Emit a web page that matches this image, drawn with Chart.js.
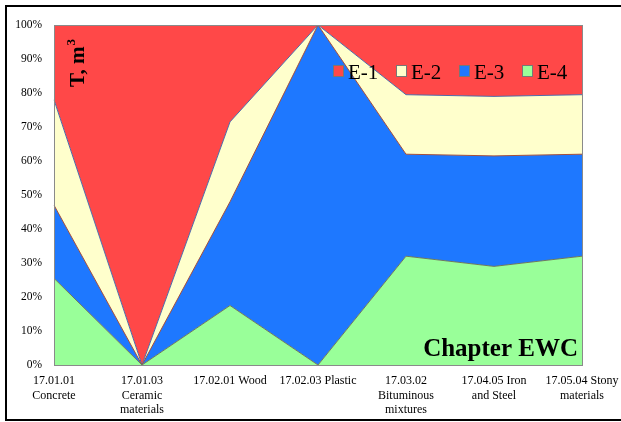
<!DOCTYPE html>
<html>
<head>
	<meta charset="utf-8">
	<title>EWC chart</title>
	<script src="https://cdn.jsdelivr.net/npm/chart.js"></script>
	<style>
	body { margin: 0; background: #fff; }
	#wrap { width: 621px; height: 422px; position: relative; }
	</style>
</head>
<body>
<div id="wrap"><canvas id="myChart" width="621" height="422"></canvas></div>
<script>
// categories (EWC codes)
const categories = [
	['17.01.01', 'Concrete'],
	['17.01.03', 'Ceramic', 'materials'],
	['17.02.01 Wood'],
	['17.02.03 Plastic'],
	['17.03.02', 'Bituminous', 'mixtures'],
	['17.04.05 Iron', 'and Steel'],
	['17.05.04 Stony', 'materials']
];
// shares in %, stacked bottom -> top
const e4 = [25.5, 0, 17.5, 0, 32, 29, 32];
const e3 = [21.5, 0, 30.5, 100, 30, 32.5, 30];
const e2 = [31, 0, 23.5, 0, 17.5, 17.5, 17.5];
const e1 = [22, 100, 28.5, 0, 20.5, 21, 20.5];

const serif = '"Liberation Serif", "Times New Roman", serif';

const series = [
	{ label: 'E-4', data: e4, color: '#99FF99', line: '#6f7a5c' },
	{ label: 'E-3', data: e3, color: '#1E78FF', line: '#a5503c' },
	{ label: 'E-2', data: e2, color: '#FFFFCC', line: '#4f6aa8' },
	{ label: 'E-1', data: e1, color: '#FF4848', line: '#8a8a9a' }
];

const extras = {
	id: 'extras',
	afterDraw(chart) {
		const ctx = chart.ctx;
		const a = chart.chartArea;
		ctx.save();
		// plot border
		ctx.strokeStyle = '#8a8a8a';
		ctx.lineWidth = 1;
		ctx.strokeRect(a.left + 0.5, a.top + 0.5, a.right - a.left, a.bottom - a.top);
		// outer frame (right side runs off the picture)
		ctx.strokeStyle = '#000';
		ctx.lineWidth = 2;
		ctx.strokeRect(6, 6, 630, 414);

		// legend, E-1 first
		ctx.font = '21px ' + serif;
		ctx.textBaseline = 'alphabetic';
		ctx.textAlign = 'left';
		let x = 333;
		[3, 2, 1, 0].forEach(i => {
			const s = series[i];
			ctx.fillStyle = s.color;
			ctx.fillRect(x, 65, 10, 11);
			ctx.strokeStyle = '#777';
			ctx.lineWidth = 1;
			ctx.strokeRect(x + 0.5, 65.5, 10, 11);
			ctx.fillStyle = '#000';
			ctx.fillText(s.label, x + 15, 79);
			x += 63;
		});

		// axis title, rotated
		ctx.translate(84, 87);
		ctx.rotate(-Math.PI / 2);
		ctx.font = 'bold 21px ' + serif;
		ctx.fillStyle = '#000';
		ctx.fillText('T, m', 0, 0);
		const w = ctx.measureText('T, m').width;
		ctx.font = 'bold 13px ' + serif;
		ctx.fillText('3', w + 1, -9);
		ctx.setTransform(1, 0, 0, 1, 0, 0);
		ctx.scale(chart.currentDevicePixelRatio, chart.currentDevicePixelRatio);

		// chapter label
		ctx.font = 'bold 25px ' + serif;
		ctx.textAlign = 'right';
		ctx.fillStyle = '#000';
		ctx.fillText('Chapter EWC', 578, 356);
		ctx.restore();
	}
};

const ctx = document.getElementById('myChart').getContext('2d');
const chart = new Chart(ctx, {
	type: 'line',
	data: {
		labels: categories,
		datasets: series.map((s, i) => ({
			label: s.label,
			data: s.data,
			backgroundColor: s.color,
			borderColor: s.line,
			borderWidth: 1,
			pointRadius: 0,
			tension: 0,
			fill: i == 0 ? 'origin' : '-1'
		}))
	},
	options: {
		responsive: false,
		animation: false,
		layout: { padding: { left: 0, right: 39, top: 25, bottom: 0 } },
		plugins: {
			legend: { display: false },
			tooltip: { enabled: false }
		},
		scales: {
			x: {
				offset: false,
				grid: { display: false, drawTicks: false },
				border: { display: true, color: '#8a8a8a' },
				ticks: {
					autoSkip: false,
					maxRotation: 0,
					minRotation: 0,
					padding: 9,
					color: '#000',
					font: { family: serif, size: 12, lineHeight: 1.2 }
				},
				afterFit(scale) {
					scale.height = 57;
					scale.paddingLeft = 0;
					scale.paddingRight = 0;
				}
			},
			y: {
				stacked: true,
				min: 0,
				max: 100,
				grid: { display: false, drawTicks: false },
				border: { display: true, color: '#8a8a8a' },
				ticks: {
					stepSize: 10,
					padding: 12,
					color: '#000',
					font: { family: serif, size: 11.5 },
					callback: v => v + '%'
				},
				afterFit(scale) { scale.width = 54; }
			}
		}
	},
	plugins: [extras]
});
</script>
</body>
</html>
